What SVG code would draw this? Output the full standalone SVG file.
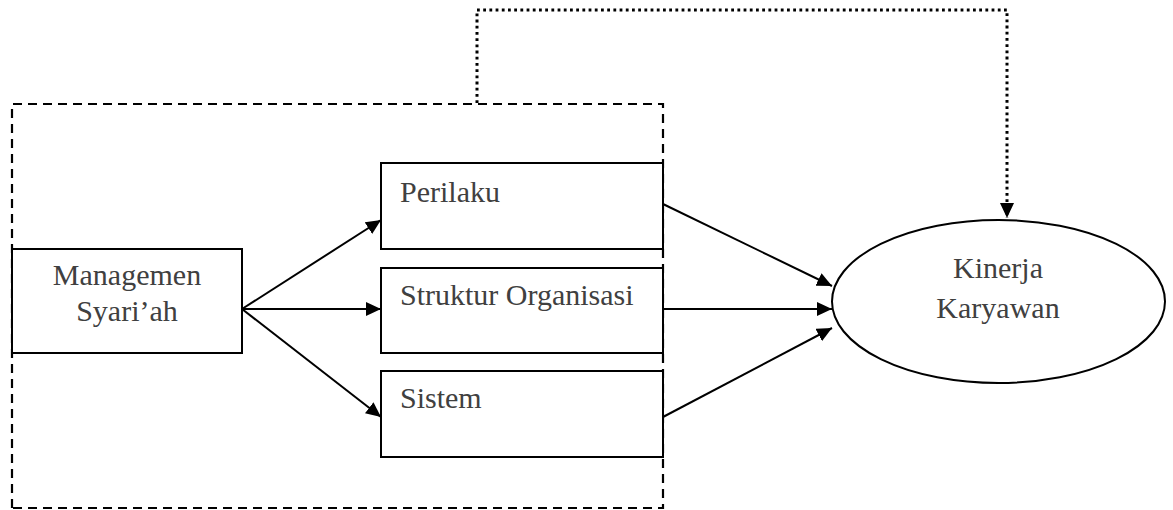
<svg xmlns="http://www.w3.org/2000/svg" width="1173" height="510" viewBox="0 0 1173 510">
<style>
.box{fill:#fff;stroke:#000;stroke-width:2}
.t{font-family:"Liberation Serif","Times New Roman",serif;font-size:30px;fill:#404040}
.c{stroke:#000;stroke-width:2;fill:none}
.dash{stroke:#000;stroke-width:2.2;fill:none;stroke-dasharray:9 6}
.dot{stroke:#000;stroke-width:3;fill:none;stroke-dasharray:2.8 3.4}
</style>
<defs>
<marker id="ah" markerWidth="15" markerHeight="14" refX="15" refY="7" orient="auto" markerUnits="userSpaceOnUse">
<path d="M0,0 L15,7 L0,14 Z" fill="#000"/>
</marker>
</defs>
<rect width="1173" height="510" fill="#fff"/>
<g id="group-box">
<path class="dash" d="M12,508 L12,104 L663,104 L663,508 Z"/>
</g>
<g id="managemen">
<rect class="box" x="12" y="249" width="230" height="104"/>
<text class="t" x="127" y="285" text-anchor="middle">Managemen</text>
<text class="t" x="127" y="321" text-anchor="middle">Syari’ah</text>
</g>
<g id="perilaku">
<rect class="box" x="381" y="163" width="282" height="86"/>
<text class="t" x="400" y="202">Perilaku</text>
</g>
<g id="struktur">
<rect class="box" x="381" y="268" width="282" height="85"/>
<text class="t" x="400" y="305">Struktur Organisasi</text>
</g>
<g id="sistem">
<rect class="box" x="381" y="371" width="282" height="86"/>
<text class="t" x="400" y="408">Sistem</text>
</g>
<g id="kinerja">
<ellipse class="box" cx="998.5" cy="301.5" rx="166.5" ry="81.5"/>
<text class="t" x="998" y="278" text-anchor="middle">Kinerja</text>
<text class="t" x="998" y="318" text-anchor="middle">Karyawan</text>
</g>
<g id="connectors">
<line class="c" x1="242" y1="309" x2="381" y2="220" marker-end="url(#ah)"/>
<line class="c" x1="242" y1="309" x2="381" y2="309" marker-end="url(#ah)"/>
<line class="c" x1="242" y1="309" x2="381" y2="417" marker-end="url(#ah)"/>
<line class="c" x1="663" y1="204" x2="832" y2="286" marker-end="url(#ah)"/>
<line class="c" x1="663" y1="309" x2="832" y2="309" marker-end="url(#ah)"/>
<line class="c" x1="663" y1="417" x2="832" y2="328" marker-end="url(#ah)"/>
<path class="dot" d="M477,103 L477,10 L1007,10 L1007,218" marker-end="url(#ah)"/>
</g>
</svg>
